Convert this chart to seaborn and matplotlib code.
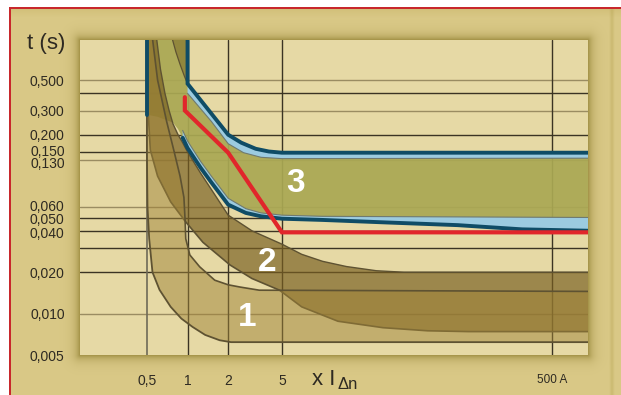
import numpy as np
import matplotlib
matplotlib.use("Agg")
import matplotlib.pyplot as plt
import matplotlib.transforms as mtransforms
import seaborn as sns

# ---- axis ticks and labels -------------------------------------------------
x_ticks = [0.5, 1, 2, 5, 500]
x_tick_labels = ["0,5", "1", "2", "5", "500 A"]
y_ticks = [0.005, 0.010, 0.020, 0.040, 0.050, 0.060, 0.130, 0.150, 0.200, 0.300, 0.500]
y_tick_labels = ["0,005", "0,010", "0,020", "0,040", "0,050", "0,060",
                 "0,130", "0,150", "0,200", "0,300", "0,500"]
y_label_shift_px = [0, 0, 0, -2, -1, 1, -2.5, 1.5, 0, 0, 0]
y_grid_dark = [0.02, 0.03, 0.04, 0.05, 0.15, 0.2, 0.4]
y_grid_light = [0.01, 0.06, 0.13, 0.3, 0.5]
x_grid_dark = [1, 2, 5, 500]
x_grid_light = [0.5]

# ---- zone 1 ------------------------------------------------------------------
z1_low_x = [0.5, 0.5, 0.505, 0.52, 0.55, 0.62, 0.75, 0.9, 1.09, 1.35, 1.73, 2.1, 1000]
z1_low_y = [1.0, 0.15, 0.06, 0.035, 0.02, 0.0149, 0.0112, 0.0092, 0.0080, 0.0070, 0.0064, 0.0062, 0.0062]
z1_up_x = [0.55, 0.6, 0.7, 0.79, 0.88, 0.94, 0.96, 0.97, 1.04, 1.23, 1.59, 2.0, 2.45, 3.4, 1000]
z1_up_y = [1.0, 0.5, 0.25, 0.155, 0.1, 0.07, 0.047, 0.035, 0.0267, 0.0219, 0.0175, 0.0162, 0.0156, 0.0148, 0.0145]

# ---- zone 2 ------------------------------------------------------------------
z2_low_x = [0.5, 0.51, 0.53, 0.6, 0.75, 0.96, 1.3, 2.06, 3.0, 4.8, 7.0, 13, 28, 60, 120, 1000]
z2_low_y = [1.0, 0.3, 0.155, 0.1, 0.065, 0.047, 0.033, 0.0226, 0.018, 0.0148, 0.0112, 0.0088, 0.0079, 0.0075, 0.0074, 0.0074]
z2_up_x = [0.59, 0.63, 0.68, 0.73, 0.78, 0.85, 0.92, 1.0, 1.25, 1.5, 2.0, 3.0, 5.0, 7.0, 10, 15, 25, 40, 1000]
z2_up_y = [1.0, 0.6, 0.4, 0.3, 0.24, 0.2, 0.175, 0.15, 0.105, 0.08, 0.052, 0.04, 0.032, 0.027, 0.024, 0.022, 0.0205, 0.02, 0.02]

# ---- zone 3 (selective devices) ----------------------------------------------
z3_up_x = [1.0, 1.0, 2.0, 2.5, 3.2, 4.0, 5.0, 1000]
z3_up_y = [1.0, 0.47, 0.20, 0.175, 0.158, 0.151, 0.148, 0.148]
z3_up_in_x = [1.0, 1.5, 2.0, 2.6, 3.5, 5.0, 1000]
z3_up_in_y = [0.40, 0.25, 0.172, 0.148, 0.137, 0.134, 0.135]
z3_wedge_x = [0.77, 0.82, 0.88, 0.95, 1.0]
z3_wedge_y = [1.0, 0.8, 0.65, 0.53, 0.47]
z3_low_x = [0.5, 0.5, 0.6, 0.7, 0.78, 0.85, 0.92, 1.0, 1.25, 1.5, 2.0, 2.7, 3.5, 5.0, 10, 30, 100, 300, 1000]
z3_low_y = [1.0, 0.28, 0.27, 0.255, 0.245, 0.22, 0.19, 0.16, 0.115, 0.09, 0.062, 0.054, 0.051, 0.049, 0.048, 0.046, 0.044, 0.041, 0.040]
z3_low_in_x = [0.92, 1.0, 1.25, 1.5, 2.0, 2.7, 3.5, 5.0, 10, 1000]
z3_low_in_y = [0.215, 0.18, 0.128, 0.1, 0.069, 0.058, 0.054, 0.052, 0.051, 0.050]

# ---- limit curve ----------------------------------------------------------------
limit_x = [0.955, 0.955, 2.0, 5.0, 1000]
limit_y = [0.375, 0.30, 0.148, 0.039, 0.039]

# ---- colours ----------------------------------------------------------------
CREAM = "#e6d9a5"
TAN = "#dac987"
SHADOW = "#8f7f30"
BORDER_RED = "#c8282c"
DARK_GRID = "#3b3424"
LIGHT_GRID = "#9a8c62"
Z1 = "#a08438"
Z2 = "#7a6022"
Z3 = "#aaa853"
WEDGE = "#8e8138"
BLUE = "#9ccbe0"
TEAL = "#0f4c66"
RED = "#e1262b"
EDGE = "#5e5232"
TEXT = "#2e2a22"

sns.set_theme(style="white")
plt.rcParams["font.family"] = ["Liberation Sans", "DejaVu Sans"]

W, H = 621, 395
PL, PR, PT, PB = 80, 588, 40, 355  # plot rectangle in pixels

fig = plt.figure(figsize=(W / 100, H / 100), dpi=100)
fig.patch.set_facecolor("white")

# ---- decorative frame behind the chart --------------------------------------
def hex_rgb(h):
    h = h.lstrip("#")
    return np.array([int(h[i:i + 2], 16) for i in (0, 2, 4)]) / 255.0

yy, xx = np.mgrid[0:H, 0:W] + 0.5
dx = np.maximum(np.maximum(PL - xx, xx - PR), 0)
dy = np.maximum(np.maximum(PT - yy, yy - PB), 0)
dist = np.hypot(dx, dy)
shade = 0.75 * np.exp(-dist / 5.0)
img = np.ones((H, W, 3)) * hex_rgb(TAN)
img = img * (1 - shade[..., None]) + hex_rgb(SHADOW) * shade[..., None]
top_band = np.clip(1 - (yy - 8) / 10.0, 0, 1) * 0.25
img = img * (1 - top_band[..., None]) + hex_rgb("#b89f4c") * top_band[..., None]
# raised outer rim on the right-hand side
rim = np.clip(1 - np.abs(xx - 612) / 3.0, 0, 1) * 0.3
img = img * (1 - rim[..., None]) + hex_rgb("#a8963e") * rim[..., None]
outside = (xx < 10) | (yy < 8)
img[outside] = 1.0
img[(yy >= 7) & (yy < 9) & (xx >= 9)] = hex_rgb(BORDER_RED)
img[(xx >= 9) & (xx < 11) & (yy >= 7)] = hex_rgb(BORDER_RED)

bg = fig.add_axes([0, 0, 1, 1], zorder=-5)
bg.imshow(img, extent=[0, W, H, 0], interpolation="bilinear", aspect="auto")
bg.set_axis_off()

# ---- main chart ---------------------------------------------------------------
ax = fig.add_axes([PL / W, 1 - PB / H, (PR - PL) / W, (PB - PT) / H])
ax.set_facecolor(CREAM)
ax.set_xscale("log")
ax.set_yscale("log")
ax.set_xlim(0.1598, 924)
ax.set_ylim(0.005, 0.977)
for s in ax.spines.values():
    s.set_visible(False)

for v in y_grid_light:
    ax.axhline(v, color=LIGHT_GRID, lw=1.0, zorder=0.5)
for v in y_grid_dark:
    ax.axhline(v, color=DARK_GRID, lw=1.0, zorder=0.5)
for v in x_grid_light:
    ax.axvline(v, color="#6f6a58", lw=1.2, zorder=0.5)
for v in x_grid_dark:
    ax.axvline(v, color=DARK_GRID, lw=1.0, zorder=0.5)


def trace(xs, ys, **kw):
    sns.lineplot(x=xs, y=ys, sort=False, estimator=None, ax=ax, legend=False, **kw)


# zone 3: olive band with blue margins
ax.fill(z3_low_x + z3_up_x[::-1], z3_low_y + z3_up_y[::-1], color=Z3, alpha=0.93, lw=0, zorder=1)
ax.fill(z3_wedge_x + [1.0], z3_wedge_y + [1.0], color=WEDGE, alpha=0.85, lw=0, zorder=1.05)
trace(z3_wedge_x, z3_wedge_y, color=EDGE, linewidth=0.9, zorder=1.06)
ax.fill(z3_up_x[1:] + z3_up_in_x[::-1], z3_up_y[1:] + z3_up_in_y[::-1], color=BLUE, lw=0, zorder=1.1)
ax.fill(z3_low_x[6:] + z3_low_in_x[::-1], z3_low_y[6:] + z3_low_in_y[::-1], color=BLUE, lw=0, zorder=1.1)
trace(z3_low_in_x, z3_low_in_y, color="#6f7a70", linewidth=0.8, zorder=1.15)
trace(z3_up_in_x, z3_up_in_y, color="#6f7a70", linewidth=0.8, zorder=1.15)

# zone 2: translucent brown band
ax.fill(z2_low_x + z2_up_x[::-1], z2_low_y + z2_up_y[::-1], facecolor=Z2, alpha=0.68,
        edgecolor="none", zorder=2)
trace(z2_low_x, z2_low_y, color=EDGE, linewidth=1.2, zorder=2.05)
trace(z2_up_x, z2_up_y, color=EDGE, linewidth=1.0, zorder=2.05)

# zone 1: translucent tan band
ax.fill(z1_low_x + z1_up_x[::-1], z1_low_y + z1_up_y[::-1], facecolor=Z1, alpha=0.5,
        edgecolor="none", zorder=2.1)
trace(z1_low_x, z1_low_y, color=EDGE, linewidth=1.3, zorder=2.15)
trace(z1_up_x, z1_up_y, color=EDGE, linewidth=1.2, zorder=2.15)

# teal outlines of zone 3
trace(z3_up_x, z3_up_y, color=TEAL, linewidth=2.8, zorder=2.5, solid_joinstyle="miter")
trace(z3_low_x[:2], z3_low_y[:2], color=TEAL, linewidth=2.8, zorder=2.5)
trace(z3_low_x[6:], z3_low_y[6:], color=TEAL, linewidth=2.8, zorder=2.5)

# limit curve
trace(limit_x, limit_y, color=RED, linewidth=3.0, zorder=3, solid_joinstyle="miter")

# zone numbers
for txt, (xv, yv) in zip(["3", "2", "1"], [(6.35, 0.089), (3.86, 0.0237), (2.75, 0.0093)]):
    ax.text(xv, yv, txt, color="white", fontsize=24, fontweight="bold",
            ha="center", va="center", zorder=4,
            family=["Liberation Sans Narrow", "Liberation Sans", "DejaVu Sans"])

# ticks
ax.set_xticks(x_ticks)
ax.set_xticklabels(x_tick_labels)
ax.set_yticks(y_ticks)
ax.set_yticklabels(y_tick_labels)
ax.minorticks_off()
ax.tick_params(axis="both", length=0, colors=TEXT, labelsize=10)
ax.tick_params(axis="y", pad=11)
ax.tick_params(axis="x", pad=14)
ax.get_xticklabels()[-1].set_fontsize(8.5)
for lab, dy_px in zip(ax.get_yticklabels(), y_label_shift_px):
    lab.set_transform(lab.get_transform() +
                      mtransforms.ScaledTranslation(0, dy_px / 100, fig.dpi_scale_trans))
ax.set_xlabel("")
ax.set_ylabel("")

# axis titles
fig.text(46 / W, 1 - 43 / H, "t (s)", ha="center", va="center", fontsize=16, color=TEXT)
fig.text(312 / W, 1 - 385 / H, "x I", ha="left", va="baseline", fontsize=16, color=TEXT)
fig.text(337 / W, 1 - 389 / H, "Δn", ha="left", va="baseline", fontsize=12, color=TEXT)

fig.savefig("out.png", dpi=100)
